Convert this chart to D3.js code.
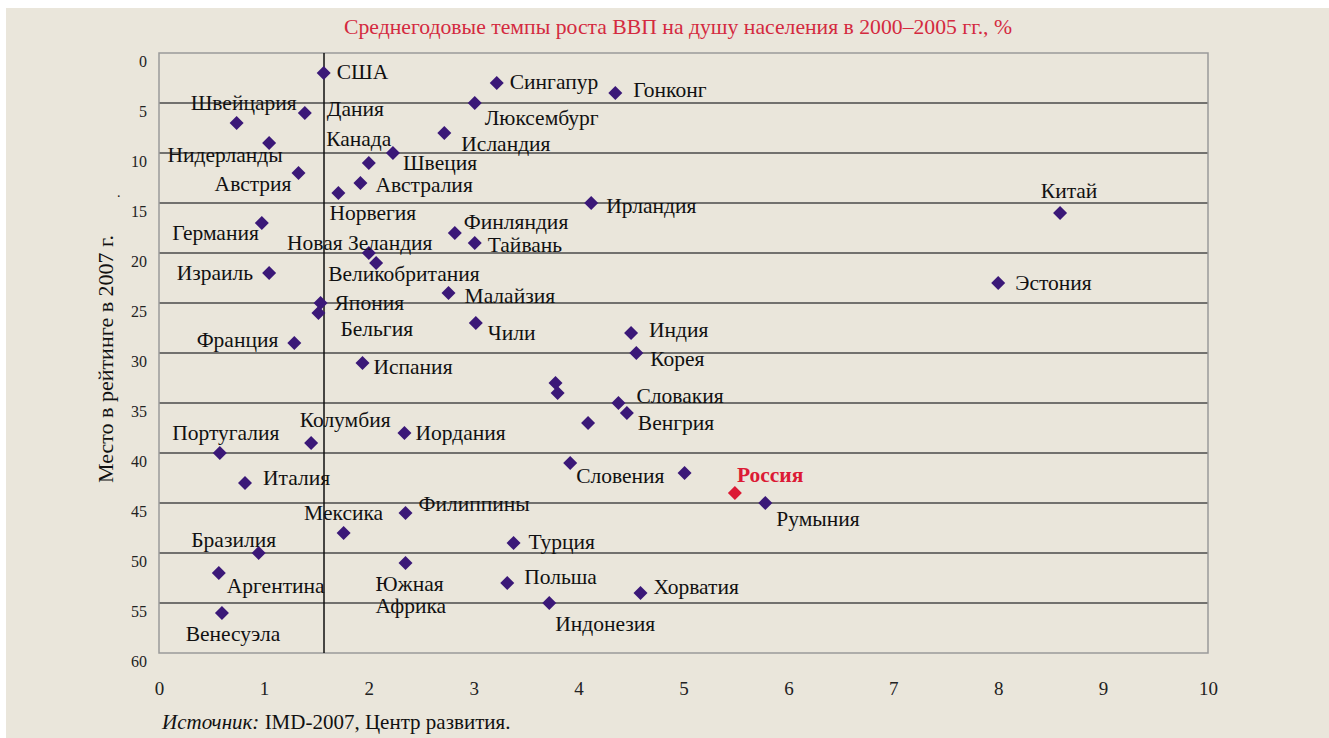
<!DOCTYPE html>
<html>
<head>
<meta charset="utf-8">
<script src="https://cdn.jsdelivr.net/npm/d3@7"></script>
<style>
  body { margin: 0; background: #ffffff; }
  text { font-family: "Liberation Serif", "DejaVu Serif", serif; }
</style>
</head>
<body>
<div class="chart"></div>
<script>
// data: growth of GDP per capita (x, %) and place in ranking (y)
var countries = ["США", "Сингапур", "Гонконг", "Люксембург", "Дания", "Швейцария", "Исландия",
  "Нидерланды", "Швеция", "Канада", "Австрия", "Австралия", "Норвегия", "Ирландия", "Китай",
  "Германия", "Финляндия", "Тайвань", "Новая Зеландия", "Великобритания", "Израиль", "Эстония",
  "Малайзия", "Япония", "Бельгия", "Чили", "Индия", "Франция", "Корея", "Испания", "", "",
  "Словакия", "Венгрия", "", "Иордания", "Колумбия", "Португалия", "Словения", "", "Италия",
  "Россия", "Румыния", "Филиппины", "Мексика", "Турция", "Бразилия", "Южная\nАфрика",
  "Аргентина", "Польша", "Хорватия", "Индонезия", "Венесуэла"];
var growth = [1.57, 3.22, 4.35, 3.01, 1.39, 0.74, 2.72,
  1.05, 2.23, 2.00, 1.33, 1.92, 1.71, 4.12, 8.59,
  0.98, 2.82, 3.01, 2.00, 2.07, 1.05, 8.00,
  2.76, 1.54, 1.52, 3.02, 4.50, 1.29, 4.55, 1.94, 3.78, 3.80,
  4.38, 4.46, 4.09, 2.34, 1.45, 0.58, 3.92, 5.01, 0.82,
  5.49, 5.78, 2.35, 1.76, 3.38, 0.95, 2.35,
  0.57, 3.32, 4.59, 3.72, 0.60];
var rank = [2, 3, 4, 5, 6, 7, 8,
  9, 10, 11, 12, 13, 14, 15, 16,
  17, 18, 19, 20, 21, 22, 23,
  24, 25, 26, 27, 28, 29, 30, 31, 33, 34,
  35, 36, 37, 38, 39, 40, 41, 42, 43,
  44, 45, 46, 48, 49, 50, 51,
  52, 53, 54, 55, 56];
var highlight = "Россия";
var worldGrowth = 1.573;   // vertical reference line
var xTicks = [0, 1, 2, 3, 4, 5, 6, 7, 8, 9, 10];
var yTicks = [0, 5, 10, 15, 20, 25, 30, 35, 40, 45, 50, 55, 60];

var titleText = "Среднегодовые темпы роста ВВП на душу населения в 2000–2005 гг., %";
var yTitle = "Место в рейтинге в 2007 г.";

// label placement, relative to the marker: [dx, dy, anchor]
var labelPos = {
  "США": [13, 0, "start"], "Сингапур": [13, 0, "start"], "Гонконг": [18, -2, "start"],
  "Люксембург": [10, 16, "start"], "Дания": [22, -3, "start"], "Швейцария": [7, -19, "middle"],
  "Исландия": [17, 12, "start"], "Нидерланды": [-44, 13, "middle"], "Швеция": [10, 11, "start"],
  "Канада": [-10, -23, "middle"], "Австрия": [-7, 12, "end"], "Австралия": [15, 3, "start"],
  "Норвегия": [-9, 21, "start"], "Ирландия": [15, 4, "start"], "Китай": [9, -21, "middle"],
  "Германия": [-3, 11, "end"], "Финляндия": [9, -10, "start"], "Тайвань": [13, 3, "start"],
  "Новая Зеландия": [-9, -9, "middle"], "Великобритания": [-48, 12, "start"],
  "Израиль": [-16, 1, "end"], "Эстония": [17, 1, "start"], "Малайзия": [16, 4, "start"],
  "Япония": [14, 1, "start"], "Бельгия": [22, 17, "start"], "Чили": [12, 11, "start"],
  "Индия": [18, -2, "start"], "Франция": [-16, -2, "end"], "Корея": [14, 7, "start"],
  "Испания": [11, 5, "start"], "Словакия": [18, -6, "start"], "Венгрия": [11, 11, "start"],
  "Иордания": [11, 1, "start"], "Колумбия": [34, -22, "middle"], "Португалия": [6, -19, "middle"],
  "Словения": [6, 14, "start"], "Италия": [18, -4, "start"], "Россия": [2, -17, "start"],
  "Румыния": [11, 17, "start"], "Филиппины": [13, -8, "start"], "Мексика": [0, -19, "middle"],
  "Турция": [15, 0, "start"], "Бразилия": [-25, -12, "middle"], "Южная\nАфрика": [-30, 22, "start"],
  "Аргентина": [8, 14, "start"], "Польша": [17, -5, "start"], "Хорватия": [13, -5, "start"],
  "Индонезия": [6, 22, "start"], "Венесуэла": [11, 22, "middle"]
};

var svgWidth = 1329;
var svgHeight = 738;
var purple = "#3b1878";
var red = "#dc1a35";

var svg = d3.select(".chart")
  .append("svg")
  .attr("width", svgWidth)
  .attr("height", svgHeight);

// beige panel
svg.append("rect")
  .attr("x", 6)
  .attr("y", 8)
  .attr("width", svgWidth - 6)
  .attr("height", svgHeight - 8)
  .attr("fill", "#eae6db");

svg.append("text")
  .attr("x", 678)
  .attr("y", 34)
  .attr("text-anchor", "middle")
  .attr("fill", "#d42a3f")
  .style("font-size", "21.7px")
  .text(titleText);

var xScale = d3.scaleLinear().domain([0, 10]).range([159, 1208]);
var yScale = d3.scaleLinear().domain([0, 60]).range([53, 653]);

// horizontal gridlines
svg.append("g")
  .selectAll("line")
  .data(yTicks.filter(function (t) { return t > 0 && t < 60; }))
  .enter().append("line")
  .attr("x1", xScale(0))
  .attr("x2", xScale(10))
  .attr("y1", function (d) { return yScale(d); })
  .attr("y2", function (d) { return yScale(d); })
  .attr("stroke", "#4a4a4a")
  .attr("stroke-width", 1.4);

// frame
svg.append("rect")
  .attr("x", xScale(0))
  .attr("y", yScale(0))
  .attr("width", xScale(10) - xScale(0))
  .attr("height", yScale(60) - yScale(0))
  .attr("fill", "none")
  .attr("stroke", "#9a9a9a")
  .attr("stroke-width", 1.5);

// vertical reference line
svg.append("line")
  .attr("x1", xScale(worldGrowth))
  .attr("x2", xScale(worldGrowth))
  .attr("y1", yScale(0))
  .attr("y2", yScale(60))
  .attr("stroke", "#111")
  .attr("stroke-width", 1.5);

// axes
var leftAxis = d3.axisLeft(yScale).tickValues(yTicks).tickSize(0).tickPadding(12);
var yAxisG = svg.append("g")
  .attr("transform", "translate(" + xScale(0) + ",0)")
  .call(leftAxis);
yAxisG.select(".domain").remove();
yAxisG.selectAll("text")
  .attr("dy", "0.85em")
  .attr("fill", "#222")
  .style("font-family", "Liberation Serif")
  .style("font-size", "16px");

var bottomAxis = d3.axisBottom(xScale).tickValues(xTicks).tickSize(0);
var xAxisG = svg.append("g")
  .attr("transform", "translate(0," + yScale(60) + ")")
  .call(bottomAxis);
xAxisG.select(".domain").remove();
xAxisG.selectAll("text")
  .attr("y", 35)
  .attr("dy", "0.35em")
  .attr("fill", "#222")
  .style("font-family", "Liberation Serif")
  .style("font-size", "19px");

// y axis title
svg.append("text")
  .attr("transform", "translate(105,359) rotate(-90)")
  .attr("text-anchor", "middle")
  .attr("dy", "0.35em")
  .attr("fill", "#111")
  .style("font-size", "22px")
  .text(yTitle);

svg.append("text")
  .attr("x", 117)
  .attr("y", 197)
  .attr("fill", "#111")
  .style("font-size", "14px")
  .text(".");

// points
var points = countries.map(function (c, i) {
  return { name: c, growth: growth[i], rank: rank[i] };
});

var diamond = d3.symbol().type(d3.symbolSquare).size(98);

svg.append("g")
  .selectAll("path")
  .data(points)
  .enter().append("path")
  .attr("d", diamond)
  .attr("transform", function (d) {
    return "translate(" + xScale(d.growth) + "," + yScale(d.rank) + ") rotate(45)";
  })
  .attr("fill", function (d) { return d.name === highlight ? red : purple; });

// labels
var labels = svg.append("g")
  .selectAll("text")
  .data(points.filter(function (d) { return d.name !== ""; }))
  .enter().append("text")
  .attr("text-anchor", function (d) { return labelPos[d.name][2]; })
  .attr("fill", function (d) { return d.name === highlight ? red : "#111"; })
  .style("font-weight", function (d) { return d.name === highlight ? "bold" : "normal"; })
  .style("font-size", "21.5px");

labels.each(function (d) {
  var p = labelPos[d.name];
  var lines = d.name.split("\n");
  var t = d3.select(this);
  lines.forEach(function (line, k) {
    t.append("tspan")
      .attr("x", xScale(d.growth) + p[0])
      .attr("y", yScale(d.rank) + p[1] + k * 22)
      .attr("dy", "0.3em")
      .text(line);
  });
});

// source
var src = svg.append("text")
  .attr("x", 162)
  .attr("y", 729)
  .attr("fill", "#111")
  .style("font-size", "21px");
src.append("tspan").style("font-style", "italic").text("Источник:");
src.append("tspan").text(" IMD-2007, Центр развития.");
</script>
</body>
</html>
